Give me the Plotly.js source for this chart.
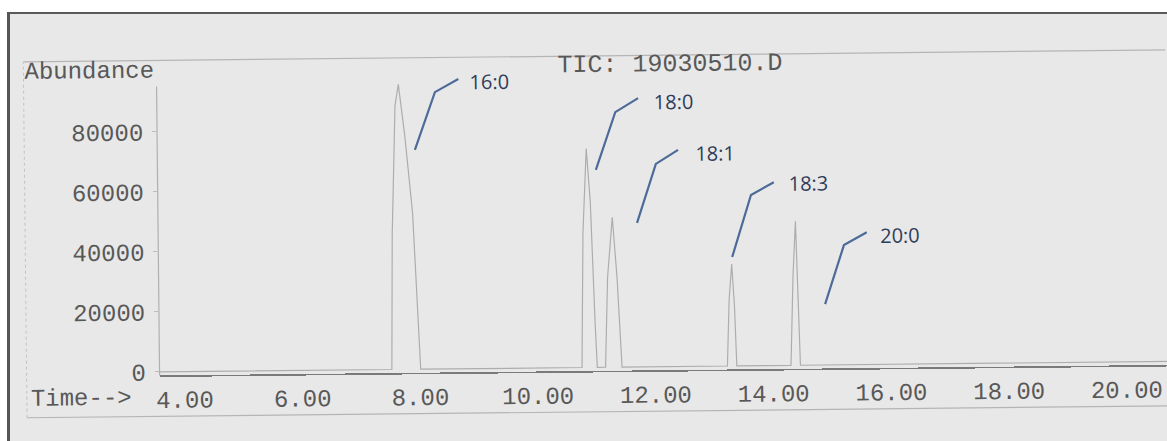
<!DOCTYPE html>
<html>
<head>
<meta charset="utf-8">
<script src="https://cdn.plot.ly/plotly-3.0.1.min.js"></script>
<style>
  html, body { margin: 0; padding: 0; background: #ffffff; width: 1167px; height: 441px; overflow: hidden; }
  #paper { position: absolute; left: 7px; top: 12px; width: 1160px; height: 429px;
           background: #e8e8e8; border-left: 3px solid #555; border-top: 2px solid #5a5a5a; box-sizing: border-box; }
  #chart { position: absolute; left: 0; top: 0; width: 1167px; height: 441px;
           transform: rotate(-0.6deg); transform-origin: 50% 50%; }
</style>
</head>
<body>
<div id="paper"></div>
<div id="chart"></div>
<script>
// Chromatogram signal (retention time in minutes, abundance)
const time = [3.58, 7.52, 7.55, 7.62, 7.68, 7.78, 7.90, 7.97, 8.01,
              10.75, 10.79, 10.86, 10.92, 10.98, 11.01,
              11.15, 11.20, 11.29, 11.36, 11.43,
              13.22, 13.26, 13.31, 13.35, 13.38,
              14.30, 14.35, 14.40, 14.43, 14.46, 20.72];
const abundance = [0, 0, 45000, 88000, 95000, 78000, 52000, 20000, 0,
                   0, 45000, 73000, 55000, 15000, 0,
                   0, 30000, 50000, 30000, 0,
                   0, 22000, 34000, 20000, 0,
                   0, 30000, 48000, 28000, 0, 0];

// Peak labels and their callout lines (start at peak, bend, end near text)
const peakLabels = ["16:0", "18:0", "18:1", "18:3", "20:0"];
const calloutTime = [[7.95, 8.30, 8.70], [11.02, 11.36, 11.75], [11.71, 12.04, 12.42], [13.32, 13.65, 14.04], [14.89, 15.22, 15.61]];
const calloutAbund = [[73100, 92300, 96600], [65800, 85000, 89600], [48000, 67600, 72200], [36300, 56900, 61100], [20300, 39900, 44100]];
const labelTime = [8.86, 11.99, 12.67, 14.26, 15.81];
const labelAbund = [95600, 88200, 71100, 60800, 43100];

// Axis ticks
const xTicks = [4, 6, 8, 10, 12, 14, 16, 18, 20];
const xTickText = ["4.00", "6.00", "8.00", "10.00", "12.00", "14.00", "16.00", "18.00", "20.00"];
const yTicks = [0, 20000, 40000, 60000, 80000];
const yTickText = ["0", "20000", "40000", "60000", "80000"];

const mono = "Liberation Mono, Courier New, monospace";
const textCol = "#585858";

const traces = [{
  x: time, y: abundance, type: "scatter", mode: "lines",
  line: { color: "#adadad", width: 1.2 }, hoverinfo: "skip", showlegend: false
}];
peakLabels.forEach((lab, i) => {
  traces.push({
    x: calloutTime[i], y: calloutAbund[i], type: "scatter", mode: "lines",
    line: { color: "#4d6b98", width: 2.2 }, hoverinfo: "skip", showlegend: false
  });
});

const annotations = peakLabels.map((lab, i) => ({
  x: labelTime[i], y: labelAbund[i], xref: "x", yref: "y", text: lab, showarrow: false,
  xanchor: "left", yanchor: "middle",
  font: { family: "Open Sans, Liberation Sans, sans-serif", size: 20, color: "#2f3c58" }
}));
annotations.push(
  { xref: "paper", yref: "paper", x: -0.1332, y: 1.013, text: "Abundance", showarrow: false,
    xanchor: "left", yanchor: "middle", font: { family: mono, size: 24, color: textCol } },
  { xref: "paper", yref: "paper", x: 0.509, y: 1.0136, text: "TIC: 19030510.D", showarrow: false,
    xanchor: "center", yanchor: "middle", font: { family: mono, size: 25, color: textCol } },
  { xref: "paper", yref: "paper", x: -0.1297, y: -0.0738, text: "Time-->", showarrow: false,
    xanchor: "left", yanchor: "middle", font: { family: mono, size: 24, color: textCol } }
);

const shapes = [
  // inner frame lines
  { type: "line", xref: "paper", yref: "paper", x0: -0.1318, x1: 1.01, y0: 1.0465, y1: 1.0465,
    line: { color: "#b5b5b5", width: 1.2 } },
  { type: "line", xref: "paper", yref: "paper", x0: -0.1318, x1: 1.01, y0: -0.136, y1: -0.136,
    line: { color: "#b5b5b5", width: 1.2 } },
  { type: "line", xref: "paper", yref: "paper", x0: -0.1318, x1: -0.1318, y0: -0.136, y1: 1.0465,
    line: { color: "#c2c2c2", width: 1, dash: "dot" } },
  // left axis line
  { type: "line", xref: "paper", yref: "paper", x0: 0, x1: 0, y0: 0, y1: 0.96,
    line: { color: "#b0b0b0", width: 1.2 } }
];

const layout = {
  width: 1167, height: 441,
  margin: { l: 158, r: 0, t: 70, b: 70, pad: 0 },
  paper_bgcolor: "rgba(0,0,0,0)", plot_bgcolor: "rgba(0,0,0,0)",
  showlegend: false,
  xaxis: {
    range: [3.574, 20.712], tickvals: xTicks, ticktext: xTickText,
    showgrid: false, zeroline: false, showline: true, linecolor: "#7a7a7a", linewidth: 1.6,
    ticks: "", ticklabelstandoff: 2,
    tickfont: { family: mono, size: 24, color: textCol }
  },
  yaxis: {
    range: [-1167, 99167], tickvals: yTicks, ticktext: yTickText,
    showgrid: false, zeroline: false, showline: false,
    ticks: "outside", ticklen: 4, tickcolor: "#bdbdbd", ticklabelstandoff: 4,
    tickfont: { family: mono, size: 24, color: textCol }
  },
  annotations: annotations,
  shapes: shapes
};

Plotly.newPlot("chart", traces, layout, { staticPlot: true, displayModeBar: false });
</script>
</body>
</html>
